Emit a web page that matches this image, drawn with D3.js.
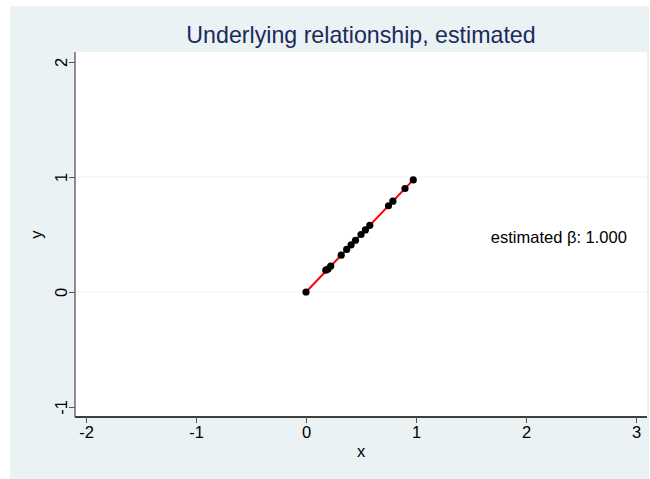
<!DOCTYPE html>
<html>
<head>
<meta charset="utf-8">
<title>Underlying relationship, estimated</title>
<script src="https://d3js.org/d3.v7.min.js"></script>
<style>
  body { margin: 0; background: #fff; }
  text { font-family: "Liberation Sans", Arial, sans-serif; }
</style>
</head>
<body>
<div id="chart"></div>
<script>
// data
var xVals = [0, 0.18, 0.20, 0.225, 0.32, 0.37, 0.41, 0.45, 0.50, 0.54, 0.58, 0.75, 0.79, 0.90, 0.975];
var yVals = [0, 0.19, 0.20, 0.225, 0.32, 0.37, 0.41, 0.45, 0.50, 0.54, 0.58, 0.75, 0.79, 0.90, 0.975];
var xTicks = [-2, -1, 0, 1, 2, 3];
var yTicks = [-1, 0, 1, 2];
var yGrid = [0, 1];
var beta = 1.000;

var W = 650, H = 479;
var margin = { left: 75, right: 647, top: 52, bottom: 417 };
var fmt = d => String(d); // plain hyphen minus like Stata
var fs = 16.5;

var svg = d3.select("#chart").append("svg")
    .attr("width", W).attr("height", H);

// graph region
svg.append("rect").attr("x", 10).attr("y", 6).attr("width", 639).attr("height", 473)
    .attr("fill", "#eaf2f3");

svg.append("rect").attr("x", margin.left).attr("y", margin.top)
    .attr("width", margin.right - margin.left).attr("height", margin.bottom - margin.top)
    .attr("fill", "#fff");

var x = d3.scaleLinear().domain([-2.1, 3.1]).range([margin.left, margin.right]);
var y = d3.scaleLinear().domain([-1.087, 2.087]).range([margin.bottom, margin.top]);

// gridlines
svg.selectAll(".grid").data(yGrid).enter().append("line")
    .attr("x1", margin.left).attr("x2", margin.right)
    .attr("y1", d => y(d)).attr("y2", d => y(d))
    .attr("stroke", "#eaf2f3").attr("stroke-width", 1.2);

// x axis
var xa = svg.append("g").attr("transform", "translate(0," + margin.bottom + ")")
    .call(d3.axisBottom(x).tickValues(xTicks).tickSize(6).tickPadding(3).tickFormat(fmt));
xa.attr("font-size", fs).attr("font-family", "Liberation Sans, Arial, sans-serif");
xa.select(".domain").attr("stroke", "#000").attr("stroke-width", 1.3)
    .attr("d", "M" + margin.left + ",0H" + margin.right);
xa.selectAll(".tick line").attr("stroke", "#555");
xa.selectAll(".tick text").attr("fill", "#000");

// y axis
var ya = svg.append("g").attr("transform", "translate(" + margin.left + ",0)")
    .call(d3.axisLeft(y).tickValues(yTicks).tickSize(6).tickPadding(4).tickFormat(fmt));
ya.attr("font-size", fs).attr("font-family", "Liberation Sans, Arial, sans-serif");
ya.select(".domain").attr("stroke", "#555").attr("stroke-width", 1.3)
    .attr("d", "M0," + margin.top + "V" + margin.bottom);
ya.selectAll(".tick line").attr("stroke", "#555");
ya.selectAll(".tick text")
    .attr("fill", "#000")
    .attr("text-anchor", "middle")
    .attr("dy", null).attr("x", null)
    .attr("dominant-baseline", "central")
    .attr("transform", "translate(-14,0) rotate(-90)");

// axis titles
svg.append("text").attr("x", (margin.left + margin.right) / 2).attr("y", 457)
    .attr("text-anchor", "middle").attr("font-size", fs).text("x");
svg.append("text").attr("transform", "translate(42," + ((margin.top + margin.bottom) / 2) + ") rotate(-90)")
    .attr("text-anchor", "middle").attr("font-size", fs).text("y");

// title
svg.append("text").attr("x", (margin.left + margin.right) / 2).attr("y", 43)
    .attr("text-anchor", "middle").attr("font-size", 23.2).attr("fill", "#1a2b5c")
    .text("Underlying relationship, estimated");

// fitted line
var pts = xVals.map((d, i) => ({ x: d, y: yVals[i] }));
var xMin = d3.min(xVals), xMax = d3.max(xVals);
svg.append("line")
    .attr("x1", x(xMin)).attr("y1", y(beta * xMin))
    .attr("x2", x(xMax)).attr("y2", y(beta * xMax))
    .attr("stroke", "#ff0000").attr("stroke-width", 2);

// points
svg.selectAll(".pt").data(pts).enter().append("circle")
    .attr("cx", d => x(d.x)).attr("cy", d => y(d.y)).attr("r", 3.6)
    .attr("fill", "#000");

// annotation
svg.append("text").attr("x", x(1.68)).attr("y", y(0.476))
    .attr("dominant-baseline", "central").attr("font-size", fs)
    .text("estimated \u03b2: " + beta.toFixed(3));
</script>
</body>
</html>
